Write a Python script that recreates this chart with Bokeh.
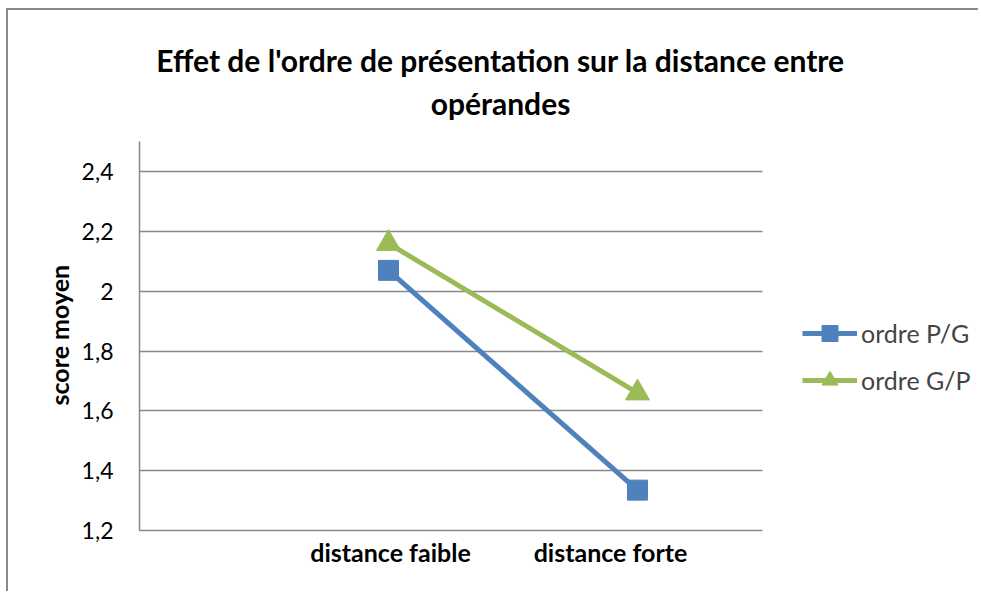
from bokeh.plotting import figure
from bokeh.models import Range1d, FixedTicker, Legend, LegendItem, Label, LinearAxis, Title
from bokeh.embed import file_html
from bokeh.resources import INLINE

categories = ["distance faible", "distance forte"]
x_pos = [1, 2]
ordre_pg = [2.07, 1.335]
ordre_gp = [2.16, 1.66]
series_names = ["ordre P/G", "ordre G/P"]
y_ticks = [1.2, 1.4, 1.6, 1.8, 2.0, 2.2, 2.4]
y_tick_labels = ["1,2", "1,4", "1,6", "1,8", "2", "2,2", "2,4"]
title_lines = ["Effet de l'ordre de présentation sur la distance entre", "opérandes"]
y_title = "score moyen"

FONT = "Lato"
BLUE = "#4F81BD"
GREEN = "#9BBB59"
GRID = "#898989"

# layout (pixels)
W, H = 972, 583
ML, MR, MT, MB = 131, 6, 10, 63
FRAME_W = W - ML - MR
FRAME_H = H - MT - MB
PX_X = 249.0      # pixels per category step
PX_Y = 299.0      # pixels per score unit
X_AXIS_END = 2.5  # end of the drawn plot area (category units)
Y_MIN, Y_AXIS_END = 1.2, 2.5

p = figure(width=W, height=H, output_backend="svg", toolbar_location=None,
           x_range=Range1d(0, FRAME_W / PX_X),
           y_range=Range1d(Y_MIN, Y_MIN + FRAME_H / PX_Y),
           x_axis_location=None,
           min_border_left=ML, min_border_right=MR, min_border_top=MT,
           min_border_bottom=MB)
p.styles = {"margin-left": "6px", "margin-top": "8px",
            "border-left": "2px solid #898989", "border-top": "2px solid #898989"}
p.outline_line_color = None
p.background_fill_color = "white"
p.border_fill_color = "white"
p.xgrid.visible = False

# category axis: labels placed as in the original picture
LBL_PX = 220.0
lbl_start = 1 - 251.0 / LBL_PX
p.extra_x_ranges = {"labels": Range1d(lbl_start, lbl_start + FRAME_W / LBL_PX)}
xax = LinearAxis(x_range_name="labels", ticker=FixedTicker(ticks=x_pos),
                 major_label_overrides=dict(zip(x_pos, categories)),
                 bounds=(lbl_start, lbl_start + X_AXIS_END * PX_X / LBL_PX))
xax.major_tick_line_color = None
xax.minor_tick_line_color = None
xax.major_tick_out = 0
xax.major_tick_in = 0
xax.axis_line_color = GRID
xax.axis_line_width = 1.5
xax.major_label_standoff = 6
xax.major_label_text_font = FONT
xax.major_label_text_font_size = "25px"
xax.major_label_text_font_style = "bold"
xax.major_label_text_color = "black"
p.add_layout(xax, "below")

p.yaxis.ticker = FixedTicker(ticks=y_ticks)
p.yaxis.bounds = (Y_MIN, Y_AXIS_END)
p.yaxis.major_label_overrides = dict(zip(y_ticks, y_tick_labels))
p.yaxis.major_tick_line_color = None
p.yaxis.minor_tick_line_color = None
p.yaxis.major_tick_out = 0
p.yaxis.major_tick_in = 0
p.yaxis.major_label_standoff = 26
p.yaxis.major_label_text_font = FONT
p.yaxis.major_label_text_font_size = "23px"
p.yaxis.major_label_text_color = "black"
p.yaxis.axis_line_color = GRID
p.yaxis.axis_line_width = 1.5

# y-axis title, centred on the drawn axis (not on the taller frame)
p.add_layout(Title(text=y_title, align="left", offset=125, standoff=9,
                   text_font=FONT, text_font_size="25px", text_font_style="bold",
                   text_color="black"), "left")

grid = p.ygrid[0]
grid.ticker = FixedTicker(ticks=y_ticks)
grid.grid_line_color = GRID
grid.grid_line_width = 1.5
if "cross_bounds" in grid.properties():
    grid.cross_bounds = (0, X_AXIS_END)
else:
    grid.visible = False
    p.segment(x0=[0] * len(y_ticks), x1=[X_AXIS_END] * len(y_ticks),
              y0=y_ticks, y1=y_ticks, line_color=GRID, line_width=1.5)

l1 = p.line(x_pos, ordre_pg, line_color=BLUE, line_width=5)
s1 = p.scatter(x_pos, ordre_pg, marker="square", size=20, fill_color=BLUE, line_color=BLUE)
l2 = p.line(x_pos, ordre_gp, line_color=GREEN, line_width=5)
s2 = p.scatter(x_pos, ordre_gp, marker="triangle", size=24, fill_color=GREEN, line_color=GREEN)

legend = Legend(items=[LegendItem(label=series_names[0], renderers=[l1, s1]),
                       LegendItem(label=series_names[1], renderers=[l2, s2])],
                location=(663, 130), padding=0, margin=0, spacing=7,
                glyph_width=55, glyph_height=40, label_standoff=4,
                border_line_color=None, background_fill_alpha=0,
                label_text_font=FONT, label_text_font_size="25px")
p.add_layout(legend, "center")

# title, inside the (extended) frame area
for line, yy in zip(title_lines, [471, 428]):
    p.add_layout(Label(x=361, y=yy, x_units="screen", y_units="screen", text=line,
                       text_align="center", text_baseline="alphabetic",
                       text_font=FONT, text_font_size="30px", text_font_style="bold",
                       text_color="black"))

open("out.html", "w").write(file_html(p, INLINE))
